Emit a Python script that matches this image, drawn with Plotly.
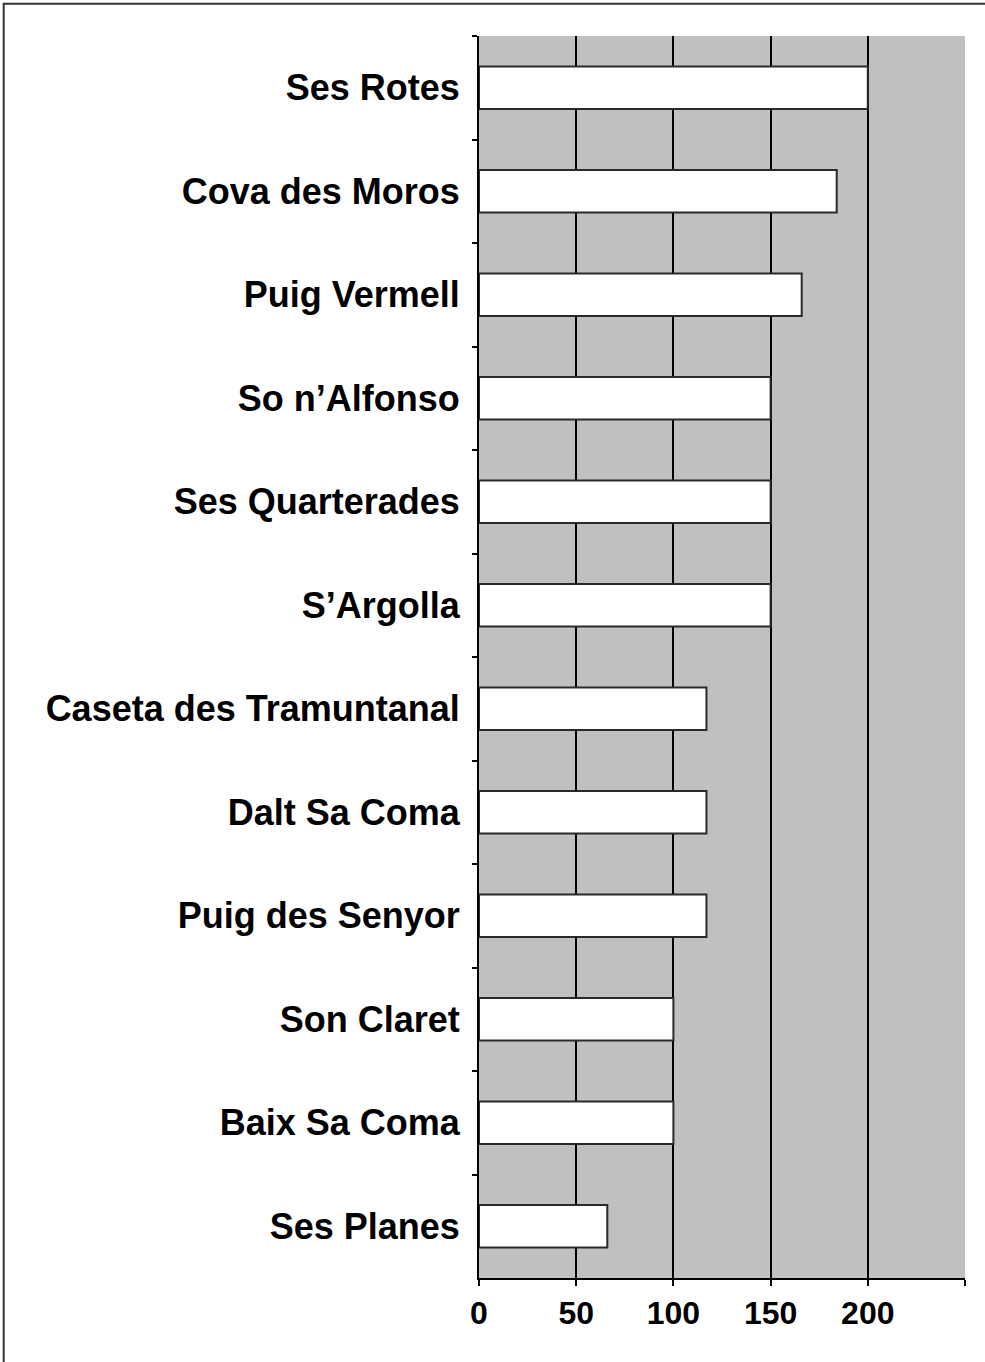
import plotly.graph_objects as go

categories = ["Ses Rotes", "Cova des Moros", "Puig Vermell", "So n\u2019Alfonso",
              "Ses Quarterades", "S\u2019Argolla", "Caseta des Tramuntanal",
              "Dalt Sa Coma", "Puig des Senyor", "Son Claret", "Baix Sa Coma",
              "Ses Planes"]
values = [200, 184, 166, 150, 150, 150, 117, 117, 117, 100, 100, 66]
x_tickvals = [0, 50, 100, 150, 200]
x_ticktext = ["0", "50", "100", "150", "200"]

fig = go.Figure(go.Bar(
    x=values, y=categories, orientation="h",
    marker=dict(color="white", line=dict(color="#2a2a2a", width=2)),
    hoverinfo="x+y",
))

fig.update_layout(
    width=985, height=1362,
    margin=dict(l=479, r=20, t=36, b=84),
    paper_bgcolor="white", plot_bgcolor="#c0c0c0",
    bargap=0.59, showlegend=False,
    font=dict(family="Liberation Sans, Arial, sans-serif", color="black"),
    shapes=[dict(type="path", xref="paper", yref="paper",
                 path="M -0.978,-0.08 L -0.978,1.026 L 1.06,1.026",
                 line=dict(color="#333333", width=2))],
)
fig.update_xaxes(
    range=[0, 250], tickvals=x_tickvals, ticktext=x_ticktext,
    showgrid=True, gridcolor="black", gridwidth=2,
    zeroline=False, showline=True, linecolor="black", linewidth=2,
    ticks="outside", ticklen=6, tickcolor="black", tickwidth=2,
    minor=dict(dtick=250, tick0=0, ticks="outside", ticklen=6,
               tickcolor="black", tickwidth=2, showgrid=False),
    tickfont=dict(size=32, weight="bold"),
    fixedrange=True,
)
fig.update_yaxes(
    autorange="reversed", showgrid=False, zeroline=False,
    showline=True, linecolor="black", linewidth=2,
    ticks="outside", tickson="boundaries", ticklen=5,
    tickcolor="black", tickwidth=2,
    ticklabelstandoff=10,
    tickfont=dict(size=36, weight="bold"),
    fixedrange=True,
)

fig.write_html("out.html", config={"displayModeBar": False},
               post_script="document.body.style.margin='0px';document.body.style.overflow='hidden';")
